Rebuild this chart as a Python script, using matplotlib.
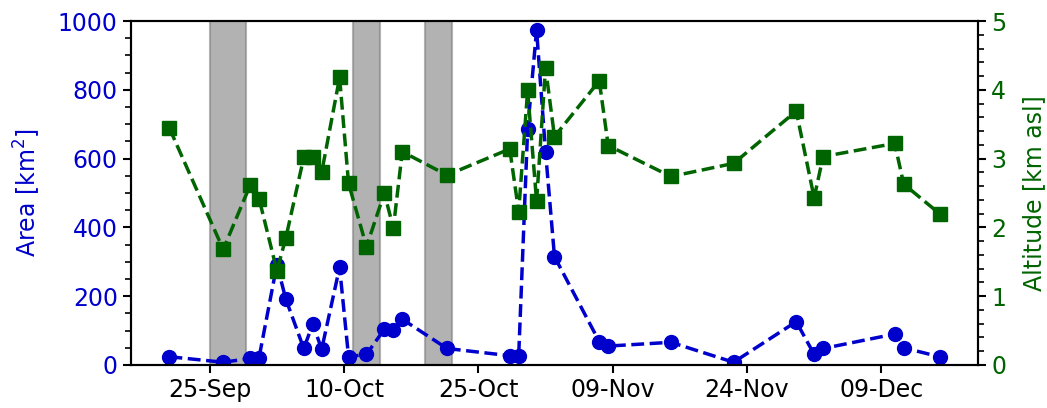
import matplotlib
matplotlib.use("Agg")
import matplotlib.pyplot as plt
import matplotlib.dates as mdates
import numpy as np
import pandas as pd

dates = ["2021-09-20", "2021-09-26", "2021-09-29", "2021-09-30", "2021-10-02",
         "2021-10-03", "2021-10-05", "2021-10-06", "2021-10-07", "2021-10-09",
         "2021-10-10", "2021-10-12", "2021-10-14", "2021-10-15", "2021-10-16",
         "2021-10-21", "2021-10-28", "2021-10-29", "2021-10-30", "2021-10-31",
         "2021-11-01", "2021-11-02", "2021-11-07", "2021-11-08", "2021-11-15",
         "2021-11-22", "2021-11-29", "2021-12-01", "2021-12-02", "2021-12-10",
         "2021-12-11", "2021-12-15"]
area = [24, 8, 19, 21, 292, 191, 48, 119, 46, 284,
        24, 31, 104, 102, 133, 48, 27, 26, 685, 974,
        620, 315, 68, 55, 66, 8, 126, 31, 48, 90,
        50, 24]
altitude = [3.44, 1.68, 2.61, 2.42, 1.37, 1.85, 3.02, 3.03, 2.80, 4.18,
            2.64, 1.72, 2.50, 1.99, 3.10, 2.76, 3.14, 2.23, 3.99, 2.38,
            4.32, 3.32, 4.13, 3.19, 2.74, 2.93, 3.69, 2.43, 3.03, 3.22,
            2.63, 2.20]
span_starts = ["2021-09-25", "2021-10-11", "2021-10-19"]
span_ends = ["2021-09-29", "2021-10-14", "2021-10-22"]
tick_dates = ["2021-09-25", "2021-10-10", "2021-10-25", "2021-11-09",
              "2021-11-24", "2021-12-09"]

x = pd.to_datetime(dates) + pd.Timedelta(hours=12)

plt.rcParams['font.family'] = ['DejaVu Sans']
fig = plt.figure(figsize=(10.47, 4.08), dpi=100)
ax1 = fig.add_axes([0.1251, 0.1054, 0.8090, 0.8431])
ax2 = ax1.twinx()

blue = '#0000CD'
green = '#006400'

for s, e in zip(span_starts, span_ends):
    ax1.axvspan(pd.Timestamp(s), pd.Timestamp(e), facecolor='gray',
                edgecolor='gray', alpha=0.6, lw=1.5, zorder=0)

ax1.plot(x, area, linestyle='--', color=blue, marker='o', markersize=10, lw=2.5)
ax2.plot(x, altitude, linestyle='--', color=green, marker='s', markersize=10, lw=2.5)

ax1.set_ylim(0, 1000)
ax2.set_ylim(0, 5)
ax1.set_yticks(np.arange(0, 1001, 200))
ax1.set_yticks(np.arange(0, 1001, 50), minor=True)
ax2.set_yticks(np.arange(0, 6, 1))
ax2.set_yticks(np.arange(0, 5.01, 0.2), minor=True)

ax1.set_xticks(pd.to_datetime(tick_dates))
ax1.xaxis.set_major_formatter(mdates.DateFormatter('%d-%b'))

fs = 17
ax1.tick_params(axis='both', which='major', labelsize=fs, length=6, width=1.5, direction='out')
ax1.tick_params(axis='both', which='minor', length=4, width=1.2, direction='out')
ax2.tick_params(axis='y', which='major', labelsize=fs, length=6, width=1.5, direction='out', labelcolor=green)
ax2.tick_params(axis='y', which='minor', length=4, width=1.2, direction='out')
ax1.tick_params(axis='y', labelcolor=blue)

ax1.set_ylabel('Area [km$^2$]', color=blue, fontsize=fs, labelpad=11)
ax2.set_ylabel('Altitude [km asl]', color=green, fontsize=fs, labelpad=11)

for a in (ax1, ax2):
    for sp in a.spines.values():
        sp.set_linewidth(1.5)

fig.savefig('out.png', dpi=100)
